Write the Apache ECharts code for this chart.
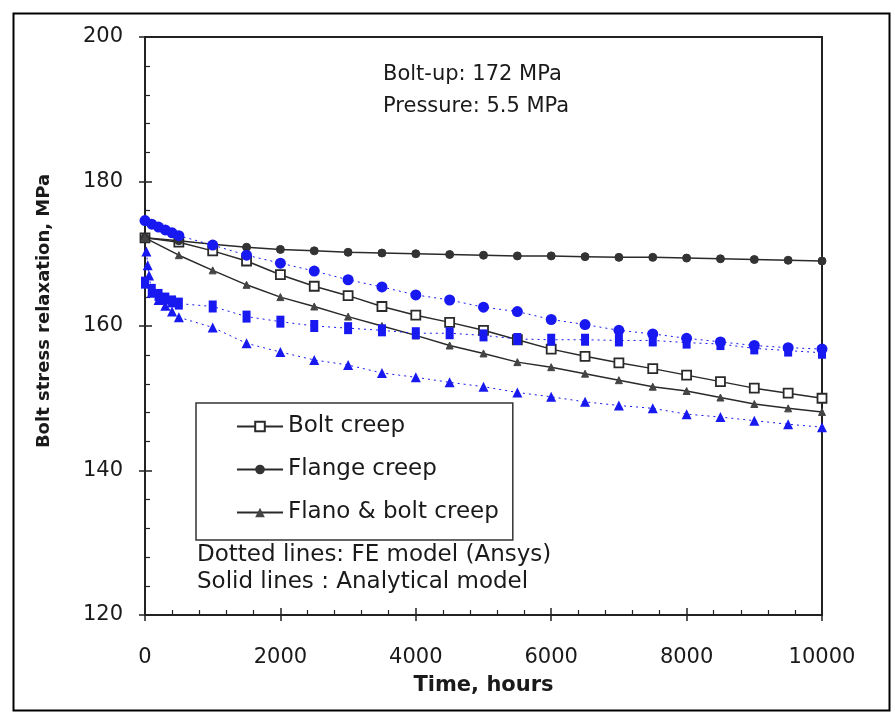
<!DOCTYPE html>
<html>
<head>
<meta charset="utf-8">
<script src="https://cdn.jsdelivr.net/npm/echarts@6/dist/echarts.min.js"></script>
<style>
html,body{margin:0;padding:0;background:#fff;}
#chart{width:895px;height:717px;}
</style>
</head>
<body>
<div id="chart"></div>
<script>
// ---- Data ----
const xTicks = [0, 2000, 4000, 6000, 8000, 10000];
const yTicks = [120, 140, 160, 180, 200];

// Analytical model (solid black lines)
const analyticalTimes = [0, 500, 1000, 1500, 2000, 2500, 3000, 3500, 4000, 4500, 5000, 5500, 6000, 6500, 7000, 7500, 8000, 8500, 9000, 9500, 10000];
const boltCreepAnalytical = [172.2, 171.6, 170.4, 169.0, 167.1, 165.5, 164.2, 162.7, 161.5, 160.5, 159.4, 158.1, 156.8, 155.8, 154.9, 154.1, 153.2, 152.3, 151.4, 150.7, 150.0];
const flangeCreepAnalytical = [172.2, 171.8, 171.3, 170.9, 170.6, 170.4, 170.2, 170.1, 170.0, 169.9, 169.8, 169.7, 169.7, 169.6, 169.5, 169.5, 169.4, 169.3, 169.2, 169.1, 169.0];
const flangeBoltCreepAnalytical = [172.2, 169.8, 167.7, 165.7, 164.0, 162.7, 161.3, 160.0, 158.7, 157.3, 156.2, 155.0, 154.3, 153.4, 152.5, 151.6, 151.0, 150.1, 149.2, 148.6, 148.1];

// FE model (Ansys) (dotted blue lines)
const feBoltTimes = [0, 100, 200, 300, 400, 500, 1000, 1500, 2000, 2500, 3000, 3500, 4000, 4500, 5000, 5500, 6000, 6500, 7000, 7500, 8000, 8500, 9000, 9500, 10000];
const feBoltCreep = [174.6, 174.1, 173.7, 173.3, 172.9, 172.5, 171.2, 169.8, 168.7, 167.6, 166.4, 165.4, 164.3, 163.6, 162.6, 162.0, 160.9, 160.2, 159.4, 158.9, 158.3, 157.8, 157.3, 157.0, 156.8];

const feFlangeTimes = [0, 100, 200, 300, 400, 500, 1000, 1500, 2000, 2500, 3000, 3500, 4000, 4500, 5000, 5500, 6000, 6500, 7000, 7500, 8000, 8500, 9000, 9500, 10000];
const feFlangeCreep = [166.0, 165.0, 164.3, 163.8, 163.4, 163.1, 162.7, 161.3, 160.6, 160.0, 159.7, 159.4, 159.0, 159.0, 158.7, 158.2, 158.1, 158.1, 158.0, 158.0, 157.7, 157.5, 156.9, 156.6, 156.3];

const feFlangeBoltTimes = [20, 40, 60, 100, 200, 300, 400, 500, 1000, 1500, 2000, 2500, 3000, 3500, 4000, 4500, 5000, 5500, 6000, 6500, 7000, 7500, 8000, 8500, 9000, 9500, 10000];
const feFlangeBoltCreep = [170.3, 168.4, 167.0, 164.6, 163.6, 162.8, 162.0, 161.2, 159.8, 157.6, 156.4, 155.3, 154.6, 153.5, 152.9, 152.2, 151.6, 150.8, 150.2, 149.5, 149.0, 148.6, 147.8, 147.4, 146.9, 146.4, 146.0];

const legendNames = ['Bolt creep', 'Flange creep', 'Flano & bolt creep'];
const noteLines = ['Bolt-up: 172 MPa', 'Pressure: 5.5 MPa'];
const modelLines = ['Dotted lines: FE model (Ansys)', 'Solid lines : Analytical model'];

// ---- Build ----
function zip(xs, ys) { return xs.map((x, i) => [x, ys[i]]); }

const FONT = '"DejaVu Sans", "Liberation Sans", Arial, sans-serif';
const BLUE = '#1818f0';
const DARK = '#2a2a2a';

const chart = echarts.init(document.getElementById('chart'), null, {renderer: 'canvas'});

const option = {
  backgroundColor: '#ffffff',
  animation: false,
  textStyle: {fontFamily: FONT},
  grid: {left: 145, right: 73, top: 37, bottom: 102, show: true, borderColor: '#222', borderWidth: 2, backgroundColor: 'transparent'},
  xAxis: [{
    type: 'value', min: xTicks[0], max: xTicks[xTicks.length - 1], interval: 2000,
    name: 'Time, hours', nameLocation: 'middle', nameGap: 60,
    nameTextStyle: {fontSize: 21, fontWeight: 'bold', color: '#1a1a1a', fontFamily: FONT},
    axisLine: {show: true, lineStyle: {color: '#222', width: 2}},
    axisTick: {show: true, inside: true, length: 7, lineStyle: {color: '#222', width: 1.5}},
    minorTick: {show: true, splitNumber: 5, length: 5, lineStyle: {color: '#222', width: 1.2}},
    axisLabel: {fontSize: 21, color: '#1a1a1a', margin: 32, fontFamily: FONT, formatter: v => String(v)},
    splitLine: {show: false}
  }, {
    type: 'value', min: xTicks[0], max: xTicks[xTicks.length - 1], interval: 2000, position: 'bottom',
    axisLine: {show: false}, axisTick: {show: true, inside: false, length: 6, lineStyle: {color: '#222', width: 1.5}},
    axisLabel: {show: false}, splitLine: {show: false}
  }],
  yAxis: [{
    type: 'value', min: yTicks[0], max: yTicks[yTicks.length - 1], interval: 20,
    name: 'Bolt stress relaxation, MPa', nameLocation: 'middle', nameGap: 92,
    nameTextStyle: {fontSize: 18, fontWeight: 'bold', color: '#1a1a1a', fontFamily: FONT, padding: [0, 0, 0, 30]},
    axisLine: {show: true, lineStyle: {color: '#222', width: 2}},
    axisTick: {show: true, inside: true, length: 7, lineStyle: {color: '#222', width: 1.5}},
    minorTick: {show: true, splitNumber: 5, length: 5, lineStyle: {color: '#222', width: 1.2}},
    axisLabel: {fontSize: 21, color: '#1a1a1a', margin: 22, fontFamily: FONT, formatter: v => String(v)},
    splitLine: {show: false}
  }, {
    type: 'value', min: yTicks[0], max: yTicks[yTicks.length - 1], interval: 20, position: 'left', offset: 0,
    axisLine: {show: false}, axisTick: {show: true, inside: false, length: 6, lineStyle: {color: '#222', width: 1.5}},
    axisLabel: {show: false}, splitLine: {show: false}
  }],
  legend: {
    data: legendNames,
    orient: 'vertical', left: 196, top: 403,
    padding: [12, 14, 16, 40],
    itemGap: 20, itemWidth: 46, itemHeight: 12,
    borderColor: '#333', borderWidth: 1.5, backgroundColor: '#fff',
    textStyle: {fontSize: 23, color: '#1a1a1a', fontFamily: FONT, lineHeight: 22},
    selectedMode: false
  },
  graphic: [
    {type: 'rect', left: 11, top: 11, shape: {width: 876, height: 697}, style: {fill: 'none', stroke: '#000', lineWidth: 2}, silent: true, z: 0},
    {type: 'text', left: 383, top: 64, style: {text: noteLines[0], font: '21px ' + FONT, fill: '#1a1a1a'}},
    {type: 'text', left: 383, top: 96, style: {text: noteLines[1], font: '21px ' + FONT, fill: '#1a1a1a'}},
    {type: 'text', left: 197, top: 544, style: {text: modelLines[0], font: '23px ' + FONT, fill: '#1a1a1a'}},
    {type: 'text', left: 197, top: 571, style: {text: modelLines[1], font: '23px ' + FONT, fill: '#1a1a1a'}}
  ],
  series: [
    {
      name: legendNames[0], type: 'line', data: zip(analyticalTimes, boltCreepAnalytical),
      symbol: 'rect', symbolSize: 9, showAllSymbol: true,
      lineStyle: {color: DARK, width: 1.5}, itemStyle: {color: '#fff', borderColor: DARK, borderWidth: 1.8}, z: 3
    },
    {
      name: legendNames[1], type: 'line', data: zip(analyticalTimes, flangeCreepAnalytical),
      symbol: 'circle', symbolSize: 8, showAllSymbol: true,
      lineStyle: {color: DARK, width: 1.5}, itemStyle: {color: '#333', borderColor: '#333'}, z: 3
    },
    {
      name: legendNames[2], type: 'line', data: zip(analyticalTimes, flangeBoltCreepAnalytical),
      symbol: 'triangle', symbolSize: 7, showAllSymbol: true,
      lineStyle: {color: DARK, width: 1.5}, itemStyle: {color: '#444', borderColor: '#444'}, z: 3
    },
    {
      name: 'FE bolt creep', type: 'line', data: zip(feBoltTimes, feBoltCreep),
      symbol: 'circle', symbolSize: 11, showAllSymbol: true,
      lineStyle: {color: BLUE, width: 1, type: [2, 4]}, itemStyle: {color: BLUE}, z: 4
    },
    {
      name: 'FE flange creep', type: 'line', data: zip(feFlangeTimes, feFlangeCreep),
      symbol: 'rect', symbolSize: [8, 12], showAllSymbol: true,
      lineStyle: {color: BLUE, width: 1, type: [2, 4]}, itemStyle: {color: BLUE}, z: 4
    },
    {
      name: 'FE flange & bolt creep', type: 'line', data: zip(feFlangeBoltTimes, feFlangeBoltCreep),
      symbol: 'triangle', symbolSize: 10, showAllSymbol: true,
      lineStyle: {color: BLUE, width: 1, type: [2, 4]}, itemStyle: {color: BLUE}, z: 4
    }
  ]
};

chart.setOption(option);
</script>
</body>
</html>
